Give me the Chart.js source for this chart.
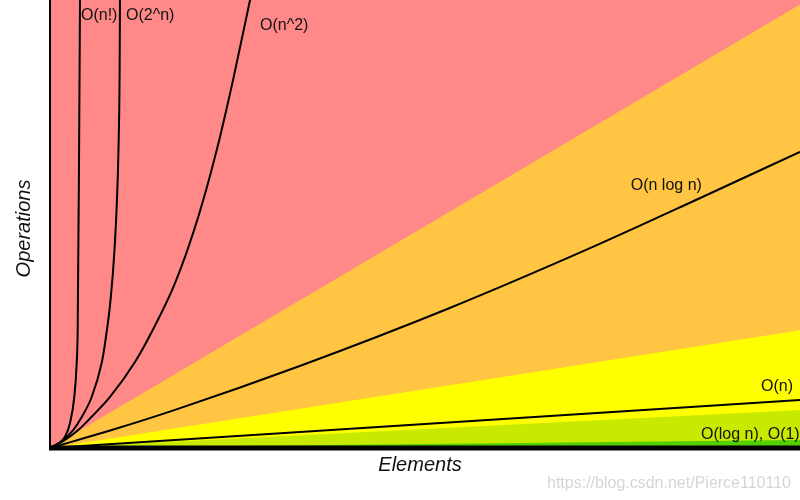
<!DOCTYPE html>
<html><head><meta charset="utf-8">
<script src="https://cdn.jsdelivr.net/npm/chart.js@4/dist/chart.umd.min.js"></script>
<style>html,body{margin:0;padding:0;background:#fff}canvas{display:block}</style>
</head><body>
<canvas id="c" width="800" height="500"></canvas>
<script>
// ---- data (Elements on x, Operations on y, arbitrary units 0..100) ----
const factX  = [0, 2.0, 2.67, 3.24, 3.56, 3.69, 3.87, 4.0, 4.05];
const factY  = [0, 2.5, 5.6, 11.4, 19.0, 26.3, 64.3, 100, 110];
const expX   = [0, 1.77, 3.11, 4.23, 5.56, 6.89, 7.4, 8.07, 8.6, 8.93, 9.13, 9.28, 9.33, 9.35];
const expY   = [0, 1.79, 4.02, 6.92, 11.38, 18.97, 24.1, 33.0, 44.2, 55.4, 66.5, 83.3, 100, 110];
const quadX  = [0, 2.0, 3.77, 5.56, 8.0, 11.33, 13.56, 16.67, 19.77, 22.23, 24.4, 26.67, 27.47];
const quadY  = [0, 1.79, 4.02, 6.99, 11.4, 19.2, 25.9, 36.8, 51.6, 66.5, 82.1, 100, 106.3];
const nlognX = [0, 8.23, 16.67, 33.3, 53.3, 72, 86.7, 100];
const nlognY = [0, 4.0, 8.5, 18.3, 31.25, 44.6, 55.8, 66.1];
const linX   = [0, 100];
const linY   = [0, 10.7];

// zone upper boundaries
const horribleX = [0, 100]; const horribleY = [120, 120];
const badX      = [0, 100]; const badY      = [0, 99];
const fairX     = [0, 100]; const fairY     = [0, 26.3];
const goodX     = [0, 100]; const goodY     = [0, 8.5];
const excX      = [0, 100]; const excY      = [0, 1.8];

const labelTexts = ['O(n!)', 'O(2^n)', 'O(n^2)', 'O(n log n)', 'O(n)', 'O(log n), O(1)'];
const labelX     = [4.13, 10.13, 28, 77.43, 94.8, 86.8];
const labelY     = [95.5, 95.5, 93.2, 57.5, 12.83, 2.12];
const xTitle = 'Elements';
const yTitle = 'Operations';
const watermark = 'https://blog.csdn.net/Pierce110110';

const zip = (xs, ys) => xs.map((v, i) => ({x: v, y: ys[i]}));

const curve = (name, xs, ys) => ({
  label: name, data: zip(xs, ys), borderColor: '#000', borderWidth: 2,
  pointRadius: 0, fill: false, cubicInterpolationMode: 'monotone'
});
const zone = (name, xs, ys, color) => ({
  label: name, data: zip(xs, ys), borderWidth: 0, borderColor: 'rgba(0,0,0,0)',
  backgroundColor: color, pointRadius: 0, fill: 'origin', tension: 0
});

const FONT = '"Liberation Sans", Arial, sans-serif';
const decor = {
  id: 'decor',
  afterDatasetsDraw(chart) {
    const {ctx, chartArea: a, scales: {x, y}} = chart;
    ctx.save();
    ctx.strokeStyle = '#000';
    ctx.lineWidth = 2;
    ctx.beginPath(); ctx.moveTo(a.left, a.top); ctx.lineTo(a.left, a.bottom); ctx.stroke();
    ctx.lineWidth = 5;
    ctx.beginPath(); ctx.moveTo(a.left - 1, a.bottom); ctx.lineTo(a.right, a.bottom); ctx.stroke();

    ctx.fillStyle = '#111';
    ctx.font = '16px ' + FONT;
    ctx.textAlign = 'left'; ctx.textBaseline = 'alphabetic';
    labelTexts.forEach((t, i) => ctx.fillText(t, x.getPixelForValue(labelX[i]), y.getPixelForValue(labelY[i])));

    ctx.font = 'italic 20px ' + FONT;
    ctx.textAlign = 'center';
    ctx.fillText(xTitle, (a.left + a.right) / 2 - 5, a.bottom + 23);
    ctx.save();
    ctx.translate(a.left - 20.5, (a.top + a.bottom) / 2 + 4.5);
    ctx.rotate(-Math.PI / 2);
    ctx.fillText(yTitle, 0, 0);
    ctx.restore();

    ctx.font = '16px ' + FONT;
    ctx.fillStyle = '#d6d6d6';
    ctx.textAlign = 'left';
    ctx.fillText(watermark, 547, 488);
    ctx.restore();
  }
};

new Chart(document.getElementById('c'), {
  type: 'line',
  data: {
    datasets: [
      curve('O(n!)', factX, factY),
      curve('O(2^n)', expX, expY),
      curve('O(n^2)', quadX, quadY),
      curve('O(n log n)', nlognX, nlognY),
      curve('O(n)', linX, linY),
      zone('Excellent', excX, excY, '#53D000'),
      zone('Good', goodX, goodY, '#C8EA00'),
      zone('Fair', fairX, fairY, '#FFFF00'),
      zone('Bad', badX, badY, '#FFC543'),
      zone('Horrible', horribleX, horribleY, '#FF8989')
    ]
  },
  options: {
    responsive: false,
    animation: false,
    layout: {padding: {left: 50, right: 0, top: 0, bottom: 52}},
    plugins: {legend: {display: false}, tooltip: {enabled: false}},
    scales: {
      x: {type: 'linear', min: 0, max: 100, display: false},
      y: {type: 'linear', min: 0, max: 100, display: false}
    }
  },
  plugins: [decor]
});
</script>
</body></html>
